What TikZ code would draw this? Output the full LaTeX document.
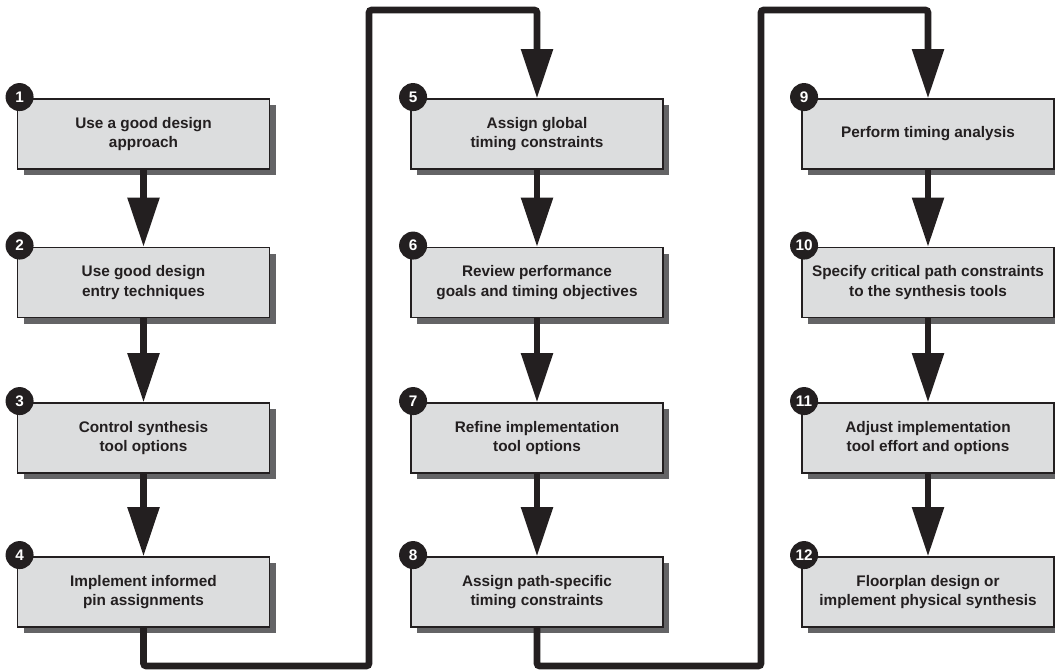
\documentclass[tikz,border=0pt]{standalone}
\usepackage{fontspec}
\setmainfont{Liberation Sans}
\usetikzlibrary{arrows.meta,shadows}
\definecolor{boxfill}{RGB}{220,221,222}
\definecolor{shade}{RGB}{100,100,102}
\definecolor{ink}{RGB}{35,31,32}
\begin{document}
\begin{tikzpicture}[x=0.75pt,y=-0.75pt,
  stepbox/.style={draw=ink, line width=0.9pt, fill=boxfill,
    minimum width=189pt, minimum height=52.5pt, inner sep=0pt,
    align=center, text=ink,
    font=\bfseries\fontsize{11.5}{14.6}\selectfont,
    drop shadow={shadow xshift=4.5pt, shadow yshift=-4.5pt, fill=shade, opacity=1}},
  num/.style={circle, fill=ink, text=white, minimum size=21pt, inner sep=0pt,
    font=\bfseries\fontsize{11.5}{11.5}\selectfont},
  flow/.style={draw=ink, line width=5pt, -{Triangle[length=37pt,width=23pt]}},
  conn/.style={flow, rounded corners=2pt}]
\useasboundingbox (0,0) rectangle (1055,670);

% column 1
\node[stepbox] (b1) at (143.5,134) {Use a good design\\approach};
\node[stepbox] (b2) at (143.5,282.5) {Use good design\\entry techniques};
\node[stepbox] (b3) at (143.5,438) {Control synthesis\\tool options};
\node[stepbox] (b4) at (143.5,592) {Implement informed\\pin assignments};
% column 2
\node[stepbox] (b5) at (537,134) {Assign global\\timing constraints};
\node[stepbox] (b6) at (537,282.5) {Review performance\\goals and timing objectives};
\node[stepbox] (b7) at (537,438) {Refine implementation\\tool options};
\node[stepbox] (b8) at (537,592) {Assign path-specific\\timing constraints};
% column 3
\node[stepbox] (b9) at (928,134) {Perform timing analysis};
\node[stepbox] (b10) at (928,282.5) {Specify critical path constraints\\to the synthesis tools};
\node[stepbox] (b11) at (928,438) {Adjust implementation\\tool effort and options};
\node[stepbox] (b12) at (928,592) {Floorplan design or\\implement physical synthesis};

% number badges
\foreach \i in {1,...,12}
  \node[num] (n\i) at ([xshift=2pt,yshift=1pt]b\i.north west) {\i};

% arrows within columns
\draw[flow] (b1.south) -- (b2.north);
\draw[flow] (b2.south) -- (b3.north);
\draw[flow] (b3.south) -- (b4.north);
\draw[flow] (b5.south) -- (b6.north);
\draw[flow] (b6.south) -- (b7.north);
\draw[flow] (b7.south) -- (b8.north);
\draw[flow] (b9.south) -- (b10.north);
\draw[flow] (b10.south) -- (b11.north);
\draw[flow] (b11.south) -- (b12.north);

% column-to-column connectors
\coordinate (c1) at (369,666);
\coordinate (c2) at (369,10);
\coordinate (c3) at (761,666);
\coordinate (c4) at (761,10);
\draw[conn] (b4.south) |- (c1) -- (c2) -| (b5.north);
\draw[conn] (b8.south) |- (c3) -- (c4) -| (b9.north);
\end{tikzpicture}
\end{document}
